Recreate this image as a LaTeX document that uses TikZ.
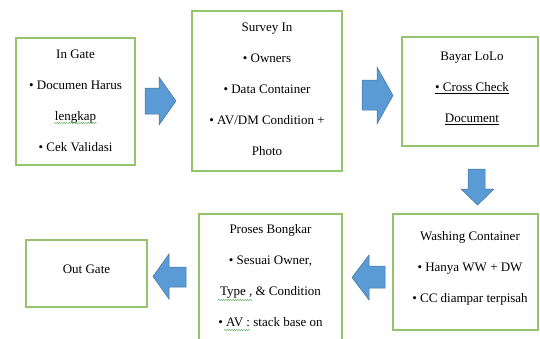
\documentclass[tikz,border=0pt]{standalone}
\usepackage{fontspec}
\setmainfont{Liberation Serif}
\newfontfamily\boxfont{Liberation Serif}
\usetikzlibrary{decorations.pathmorphing}
\definecolor{boxgreen}{RGB}{150,196,108}
\definecolor{arrowfill}{RGB}{91,155,213}
\definecolor{arrowedge}{RGB}{65,113,156}
\definecolor{spellgreen}{RGB}{70,165,70}
\begin{document}
\begin{tikzpicture}[x=1pt,y=-1pt,
  stepbox/.style={draw=boxgreen,line width=1.2pt,fill=white,inner sep=0pt},
  boxtext/.style={align=center,font=\boxfont\fontsize{13}{31}\selectfont,inner sep=0pt},
  spellmark/.style={draw=spellgreen,line width=0.4pt,decorate,decoration={snake,amplitude=0.6pt,segment length=2.4pt}},
  blockarrow/.style={fill=arrowfill,draw=arrowedge,line width=0.5pt,line join=miter}]
\clip (0,0) rectangle (540,338);
\useasboundingbox (0,0) rectangle (540,338);
% boxes
\node[stepbox,minimum width=119pt,minimum height=127pt] (ingate) at (75.5,101.5) {};
\node[stepbox,minimum width=150pt,minimum height=160pt] (survey) at (267,91) {};
\node[stepbox,minimum width=136pt,minimum height=109pt] (bayar) at (470,91.5) {};
\node[stepbox,minimum width=145pt,minimum height=116pt] (washing) at (465.5,272) {};
\node[stepbox,minimum width=143pt,minimum height=160pt] (proses) at (270.5,294) {};
\node[stepbox,minimum width=121pt,minimum height=67pt] (outgate) at (86.5,273.5) {};
% texts
\node[boxtext] (ingate-t) at (75.5,101) {In Gate\\ • Documen Harus\\ lengkap\\ • Cek Validasi};
\node[boxtext] (survey-t) at (267,89) {Survey In\\ • Owners\\ • Data Container\\ • AV/DM Condition +\\ Photo};
\node[boxtext] (bayar-t) at (472,88) {Bayar LoLo\\ \underline{• Cross Check}\\ \underline{Document}};
\node[boxtext] (washing-t) at (470,268) {Washing Container\\ • Hanya WW + DW\\ • CC diampar terpisah};
\node[boxtext,anchor=north] (proses-t) at (270.5,224) {Proses Bongkar\\ • Sesuai Owner,\\ Type , \& Condition\\ • AV : stack base on};
\node[boxtext] (outgate-t) at (86.5,269.5) {Out Gate};
% spelling marks
\draw[spellmark] (54,123) -- (97,123);
\draw[spellmark] (218,300) -- (252,300);
\draw[spellmark] (224,330) -- (250,330);
% block arrows
\draw[blockarrow] (145,88) -- (159,88) -- (159,77) -- (176,101) -- (159,125) -- (159,114) -- (145,114) -- cycle;
\draw[blockarrow] (362,80) -- (377,80) -- (377,67) -- (393,95.5) -- (377,124) -- (377,110) -- (362,110) -- cycle;
\draw[blockarrow] (468,169) -- (485,169) -- (485,189) -- (494,189) -- (477.5,205) -- (461,189) -- (468,189) -- cycle;
\draw[blockarrow] (385,266) -- (369,266) -- (369,255) -- (352,277.5) -- (369,300) -- (369,288) -- (385,288) -- cycle;
\draw[blockarrow] (186,267) -- (169,267) -- (169,254) -- (153,276.5) -- (169,299) -- (169,287) -- (186,287) -- cycle;
\end{tikzpicture}
\end{document}
